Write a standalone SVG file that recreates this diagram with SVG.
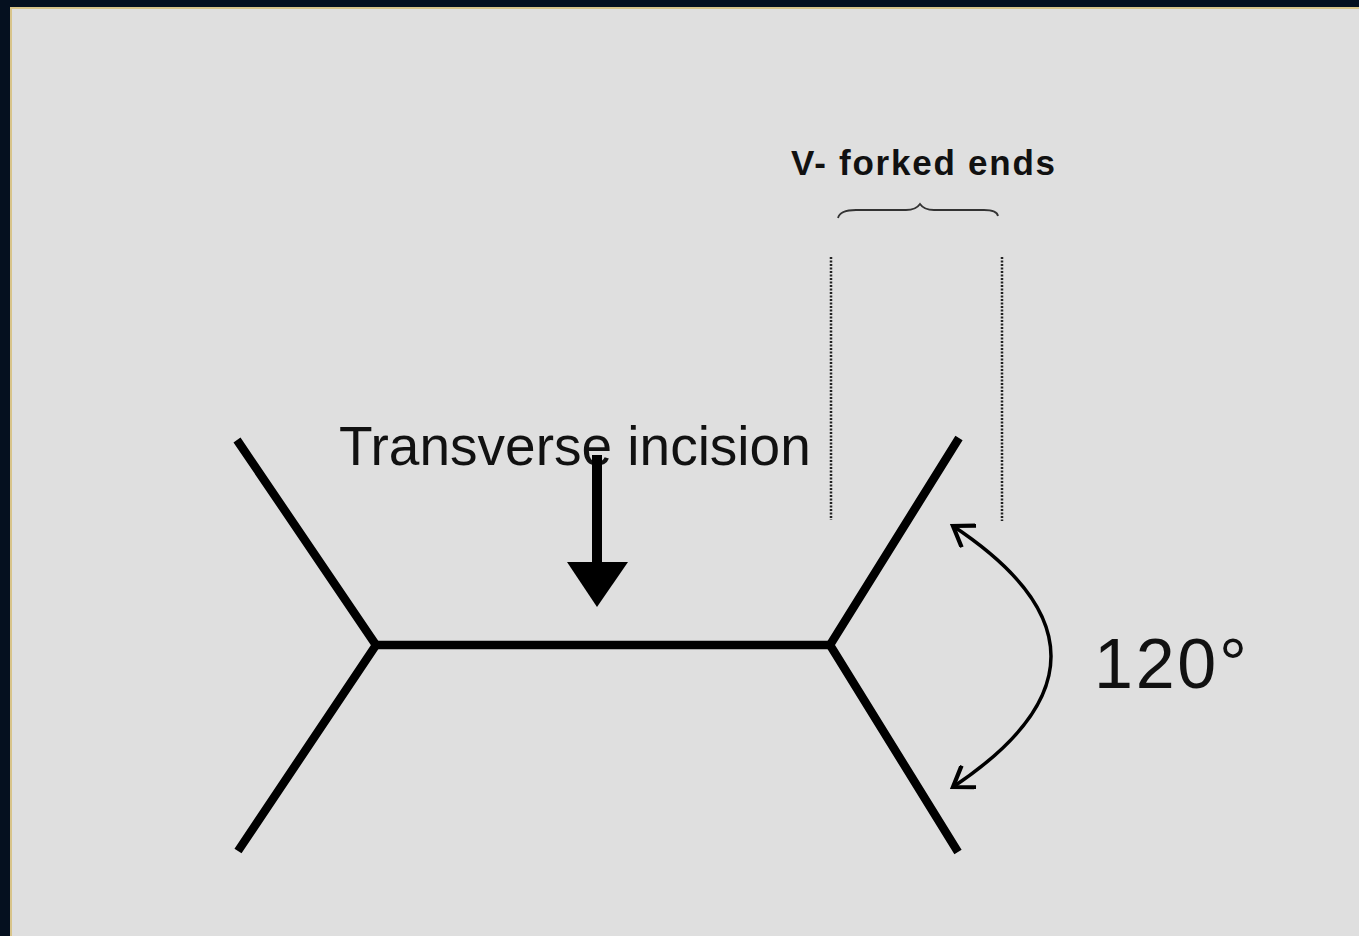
<svg xmlns="http://www.w3.org/2000/svg" width="1359" height="936" viewBox="0 0 1359 936">
  <style>
    .bar { stroke: #000; stroke-width: 8.5; fill: none; stroke-linecap: butt; stroke-linejoin: miter; }
    .guide { stroke: #222; stroke-width: 2.5; stroke-dasharray: 2 1.5; fill: none; }
    .label { font-family: "Liberation Sans", Arial, sans-serif; fill: #111; }
  </style>
  <defs>
    <marker id="chevron" viewBox="0 0 28 28" refX="24" refY="14" markerWidth="28" markerHeight="28" markerUnits="userSpaceOnUse" orient="auto-start-reverse">
      <path d="M5,1 L24,14 L5,27" fill="none" stroke="#000" stroke-width="4.2" stroke-linejoin="miter"/>
    </marker>
  </defs>

  <!-- page and frame -->
  <rect x="0" y="0" width="1359" height="936" fill="#dfdfdf"/>
  <rect x="0" y="0" width="1359" height="7" fill="#05101f"/>
  <rect x="0" y="0" width="10" height="936" fill="#05101f"/>
  <rect x="10" y="7" width="1349" height="2" fill="#d8c48a"/>
  <rect x="10" y="7" width="2" height="929" fill="#d8c48a"/>

  <!-- forked incision outline -->
  <g id="incision">
    <polyline class="bar" points="237,440 376,645 238,851"/>
    <line class="bar" x1="376" y1="645" x2="830" y2="645"/>
    <polyline class="bar" points="959,438 830,645 958,852"/>
  </g>

  <g id="label-transverse">
    <text class="label" x="339" y="465" font-size="55">Transverse incision</text>
  </g>

  <g id="label-forked">
    <text class="label" x="791" y="175" font-size="35" font-weight="bold" textLength="264" lengthAdjust="spacing">V- forked ends</text>
  </g>

  <g id="label-angle">
    <text class="label" x="1094" y="688" font-size="70" textLength="153" lengthAdjust="spacing">120°</text>
  </g>

  <g id="connectors">
    <!-- incision arrow -->
    <line x1="597" y1="455" x2="597" y2="565" stroke="#000" stroke-width="10"/>
    <polygon points="567,562 628,562 597,607" fill="#000"/>
    <!-- span brace and guides -->
    <path d="M838,218 Q840,210 856,210 L906,210 Q916,210 920,204 Q924,210 934,210 L984,210 Q997,210 998,216" fill="none" stroke="#333" stroke-width="1.8"/>
    <line class="guide" x1="831" y1="257" x2="831" y2="520"/>
    <line class="guide" x1="1002" y1="257" x2="1002" y2="521"/>
    <!-- angle arc -->
    <path d="M953,526 Q1149,656 953,787" fill="none" stroke="#000" stroke-width="3.5" marker-start="url(#chevron)" marker-end="url(#chevron)"/>
  </g>
</svg>
